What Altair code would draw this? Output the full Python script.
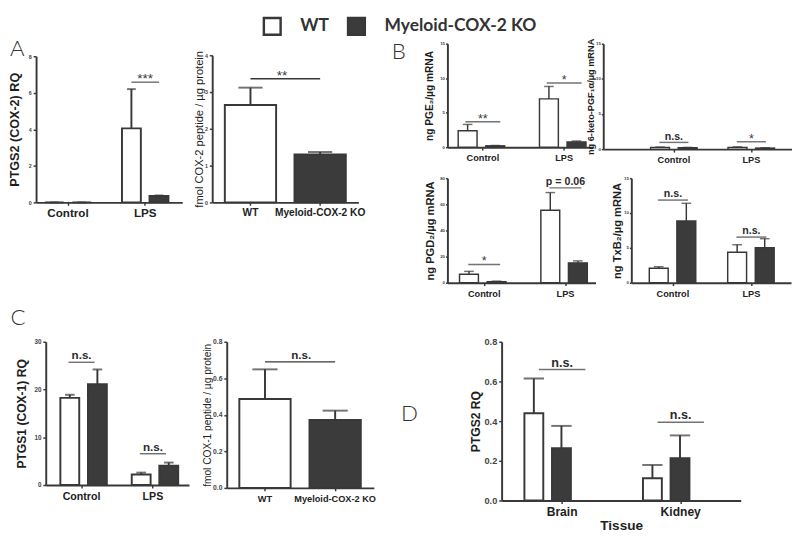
import altair as alt
import pandas as pd

INK = "#383838"
DARK = "#3b3b3b"
FONT = "Liberation Sans"
LFONT = "Lato"

groups = ["WT", "Myeloid-COX-2 KO"]
treatments = ["Control", "LPS"]
tissues = ["Brain", "Kidney"]

# order: Control-WT, Control-KO, LPS-WT, LPS-KO ; "upper" = top of error bar
a1_mean = [0.0, 0.0, 4.05, 0.35]
a1_upper = [0.0, 0.0, 6.2, 0.38]
a1_sig_cat = ["LPS"]
a1_sig_y = [6.58]
a1_sig_txt = ["***"]

a2_mean = [2.65, 1.30]
a2_upper = [3.12, 1.37]
a2_sig_y = 3.36
a2_sig_txt = "**"

b1_mean = [2.4, 0.2, 7.0, 0.75]
b1_upper = [3.3, 0.25, 8.8, 0.9]
b1_sig_cat = ["Control", "LPS"]
b1_sig_y = [3.7, 9.3]
b1_sig_txt = ["**", "*"]

b2_mean = [0.25, 0.2, 0.25, 0.15]
b2_upper = [0.3, 0.25, 0.33, 0.2]
b2_sig_cat = ["Control", "LPS"]
b2_sig_y = [0.96, 1.05]
b2_sig_txt = ["n.s.", "*"]

b3_mean = [6.5, 0.8, 55.5, 15.2]
b3_upper = [8.7, 1.2, 69.0, 16.7]
b3_sig_cat = ["Control", "LPS"]
b3_sig_y = [14.0, 72.6]
b3_sig_txt = ["*", "p = 0.06"]

b4_mean = [2.08, 8.86, 4.38, 5.03]
b4_upper = [2.3, 11.4, 5.45, 6.32]
b4_sig_cat = ["Control", "LPS"]
b4_sig_y = [11.86, 6.55]
b4_sig_txt = ["n.s.", "n.s."]

c1_mean = [18.25, 21.1, 2.2, 4.05]
c1_upper = [18.9, 24.2, 2.6, 4.7]
c1_sig_cat = ["Control", "LPS"]
c1_sig_y = [25.7, 6.55]
c1_sig_txt = ["n.s.", "n.s."]

c2_mean = [0.487, 0.372]
c2_upper = [0.649, 0.423]
c2_sig_y = 0.69
c2_sig_txt = "n.s."

d_mean = [0.44, 0.263, 0.112, 0.213]
d_upper = [0.615, 0.376, 0.179, 0.328]
d_sig_cat = ["Brain", "Kidney"]
d_sig_y = [0.66, 0.394]
d_sig_txt = ["n.s.", "n.s."]

fill_scale = alt.Scale(domain=groups, range=["#ffffff", DARK])
legend = alt.Legend(orient="none", legendX=224, legendY=-28, direction="horizontal",
                    title=None, symbolType="square", symbolSize=300,
                    symbolStrokeColor=INK, symbolStrokeWidth=2.5,
                    labelFont=LFONT, labelFontSize=18, labelFontWeight="bold",
                    labelColor="#333", labelOffset=19, columnPadding=14,
                    labelLimit=300, padding=0)


def band_params(W, c1, c2, pi):
    step = c2 - c1
    po = max(0.0, (W / step - 2 + pi) / 2)
    bw = step * (1 - pi)
    free = W - step * (2 - pi)
    al = min(1.0, max(0.0, (c1 - bw / 2) / free)) if free > 0 else 0.5
    return po, al


def sub_params(bw, d, w):
    pi2 = 1 - w / d
    po2 = max(0.0, (bw / d - 2 + pi2) / 2)
    return pi2, po2


def letter(text, anchor, dx, dy):
    return alt.TitleParams(text=text, anchor=anchor, frame="group", orient="top",
                           dx=dx, dy=dy, offset=0, font=LFONT, fontSize=23,
                           fontWeight=300, color="#333")


def y_axis(p):
    kw = dict(values=p["yticks"], format=p["yfmt"], title=p["ytitle"],
              titleFontSize=p["yts"], titleFontWeight=p["ytw"],
              titlePadding=p["ytpad"], labelFontSize=p["yls"],
              labelColor="#444", tickSize=p.get("ytick", 3),
              labelPadding=p.get("ylpad", 2))
    if "yoffset" in p:
        kw["offset"] = p["yoffset"]
    return alt.Axis(**kw)


def x_axis(p):
    kw = dict(labelAngle=0, labelFontSize=p["xls"], labelColor="#222",
              labelPadding=p.get("xlpad", 3), tickSize=3, title=None)
    kw.update(p.get("xextra", {}))
    return alt.Axis(**kw)


def x_scale(p, domain, pi):
    rw = p["xrange"][1] - p["xrange"][0] if "xrange" in p else p["W"]
    po, al = band_params(rw, p["c1"], p["c2"], pi)
    kw = dict(domain=domain, paddingInner=pi, paddingOuter=po, align=al)
    if "xrange" in p:
        kw["range"] = p["xrange"]
    return alt.Scale(**kw)


def y_scale(p):
    kw = dict(domain=[0, p["ymax"]], nice=False)
    if "yrange" in p:
        kw["range"] = p["yrange"]
    return alt.Scale(**kw)


def sig_layers(sdf, X, Y, p, dx=0):
    layers = []
    stars = sdf[sdf["label"].str.strip("*") == ""]
    words = sdf[sdf["label"].str.strip("*") != ""]
    if len(stars):
        layers.append(alt.Chart(stars).mark_text(baseline="alphabetic", dy=1, dx=dx,
                      font=FONT, fontSize=p["star"], color=INK)
                      .encode(x=X, y=Y, text="label:N"))
    if len(words):
        layers.append(alt.Chart(words).mark_text(baseline="alphabetic", dy=-3, dx=dx,
                      font=FONT, fontSize=p["word"], fontWeight="bold", color="#2b2b2b")
                      .encode(x=X, y=Y, text="label:N"))
    return layers


def grouped_panel(cats, mean, upper, sig_cat, sig_y, sig_txt, p, title=None):
    rows = []
    i = 0
    for c in cats:
        for g in groups:
            rows.append({"cat": c, "group": g, "mean": mean[i], "upper": upper[i]})
            i += 1
    df = pd.DataFrame(rows)
    pi = 0.3
    bw = (p["c2"] - p["c1"]) * (1 - pi)
    pi2, po2 = sub_params(bw, p["d"], p["bar"])
    xs = x_scale(p, cats, pi)
    ys = y_scale(p)
    xa = x_axis(p)
    ya = y_axis(p)
    X = alt.X("cat:N", scale=xs, axis=xa)
    XO = alt.XOffset("group:N", scale=alt.Scale(domain=groups, paddingInner=pi2, paddingOuter=po2))
    base = alt.Chart(df)
    bars = base.mark_bar(stroke=INK, strokeWidth=p["sw"]).encode(
        x=X, xOffset=XO, y=alt.Y("mean:Q", scale=ys, axis=ya),
        fill=alt.Fill("group:N", scale=fill_scale, legend=legend))
    err = base.mark_rule(color=INK, strokeWidth=p["sw"]).encode(
        x=X, xOffset=XO, y=alt.Y("mean:Q", scale=ys, axis=ya), y2="upper:Q")
    cap = base.mark_tick(color=INK, thickness=p["sw"], size=p["cap"], orient="horizontal").encode(
        x=X, xOffset=XO, y=alt.Y("upper:Q", scale=ys, axis=ya))
    sdf = pd.DataFrame({"cat": sig_cat, "y": sig_y, "label": sig_txt})
    Ys = alt.Y("y:Q", scale=ys, axis=ya)
    sline = alt.Chart(sdf).mark_tick(color=INK, thickness=1.5, size=p["span"], orient="horizontal").encode(
        x=X, y=Ys)
    layers = [bars, err, cap, sline] + sig_layers(sdf, X, Ys, p)
    props = dict(width=p["W"], height=p["H"])
    if title is not None:
        props["title"] = title
    return alt.layer(*layers).properties(**props)


def pair_panel(mean, upper, sig_y, sig_txt, p, title=None):
    df = pd.DataFrame({"group": groups, "mean": mean, "upper": upper})
    step = p["c2"] - p["c1"]
    pi = 1 - p["bar"] / step
    xs = x_scale(p, groups, pi)
    ys = y_scale(p)
    xa = x_axis(p)
    ya = y_axis(p)
    X = alt.X("group:N", scale=xs, axis=xa)
    base = alt.Chart(df)
    bars = base.mark_bar(stroke=INK, strokeWidth=p["sw"]).encode(
        x=X, y=alt.Y("mean:Q", scale=ys, axis=ya),
        fill=alt.Fill("group:N", scale=fill_scale, legend=legend))
    err = base.mark_rule(color=INK, strokeWidth=p["sw"]).encode(
        x=X, y=alt.Y("mean:Q", scale=ys, axis=ya), y2="upper:Q")
    cap = base.mark_tick(color=INK, thickness=p["sw"], size=p["cap"], orient="horizontal").encode(
        x=X, y=alt.Y("upper:Q", scale=ys, axis=ya))
    sdf = pd.DataFrame({"start": [groups[0]], "end": [groups[1]], "y": [sig_y], "label": [sig_txt]})
    Ys = alt.Y("y:Q", scale=ys, axis=ya)
    XS = alt.X("start:N", scale=xs, axis=xa, bandPosition=0.5)
    sline = alt.Chart(sdf).mark_rule(color=INK, strokeWidth=1.5).encode(
        x=XS, x2=alt.X2("end:N", bandPosition=0.5), y=Ys)
    layers = [bars, err, cap, sline] + sig_layers(sdf, XS, Ys, p, dx=p["sigdx"])
    props = dict(width=p["W"], height=p["H"])
    if title is not None:
        props["title"] = title
    return alt.layer(*layers).properties(**props)


pA1 = dict(W=141, H=164, xrange=[-10, 141], yrange=[164, 13], yoffset=10,
           c1=33, c2=112.75, d=28.5, bar=19.5, ymax=8, yticks=[0, 2, 4, 6, 8],
           yfmt="d", ytitle="PTGS2 (COX-2) RQ", yts=13, ytw="bold", ytpad=7, yls=5.5,
           xls=12, sw=2, cap=9, span=28.5, star=14, word=12,
           xextra=dict(title="C", titleX=-37, titleY=108, titleAlign="left", titleBaseline="top",
                       titleAngle=0, titleFont=LFONT, titleFontSize=23, titleFontWeight=300,
                       titleColor="#333"))
pA2 = dict(W=151, H=164, yrange=[164, 12], c1=39.5, c2=111.5, bar=53, ymax=4,
           yticks=[0, 1, 2, 3, 4], yfmt="d",
           ytitle="fmol COX-2 peptide / µg protein", yts=11.5, ytw="normal", ytpad=0, yls=5.5,
           xls=10.5, sw=2, cap=25, star=14, word=12, sigdx=32.5)
pB1 = dict(W=150, H=107, c1=38, c2=122, d=27.5, bar=20, ymax=15, yticks=[0, 5, 10, 15], yfmt="d",
           ytitle="ng PGE₂/µg mRNA", yts=10.5, ytw="bold", ytpad=5, yls=4.5, ytick=2, ylpad=1,
           xls=9.5, sw=1.5, cap=10, span=36, star=13, word=11)
pB2 = dict(W=195, H=109, c1=73, c2=153, d=30, bar=20, ymax=15, yticks=[0, 5, 10, 15], yfmt="d",
           ytitle="ng 6-keto-PGF₁α/µg mRNA", yts=9.5, ytw="bold", ytpad=0, yls=4.5, ytick=2, ylpad=1,
           xls=9.5, sw=1.5, cap=10, span=30, star=13, word=11)
pB3 = dict(W=153, H=108, c1=38, c2=122, d=27.5, bar=20, ymax=80, yticks=[0, 20, 40, 60, 80],
           yfmt="d", ytitle="ng PGD₂/µg mRNA", yts=11.5, ytw="bold", ytpad=4, yls=4.5, ytick=2,
           ylpad=1, xls=9.5, sw=1.5, cap=10, span=33, star=13, word=11)
pB4 = dict(W=165, H=108, c1=43, c2=124, d=30.5, bar=20.5, ymax=15, yticks=[0, 5, 10, 15], yfmt="d",
           ytitle="ng TxB₂/µg mRNA", yts=11.5, ytw="bold", ytpad=1, yls=4.5, ytick=2, ylpad=1,
           xls=9.5, sw=1.5, cap=10, span=31, star=13, word=11)
pC1 = dict(W=148, H=148, c1=37, c2=110.75, d=27, bar=20, ymax=30, yticks=[0, 10, 20, 30], yfmt="d",
           ytitle="PTGS1 (COX-1) RQ", yts=12.5, ytw="bold", ytpad=6, yls=6.5,
           xls=11, sw=2, cap=10, span=27, star=14, word=12)
pC2 = dict(W=152, H=151, c1=39.5, c2=112, bar=53, ymax=0.8, yticks=[0, 0.2, 0.4, 0.6, 0.8],
           yfmt=".1f", ytitle="fmol COX-1 peptide / µg protein", yts=10.5, ytw="normal", ytpad=0,
           yls=7, xls=9.5, sw=2, cap=26, star=14, word=12, sigdx=37.5)
pD = dict(W=247, H=164, c1=62.5, c2=185, d=46, bar=32, ymax=0.8, yticks=[0, 0.2, 0.4, 0.6, 0.8],
          yfmt=".1f", ytitle="PTGS2 RQ", yts=12.5, ytw="bold", ytpad=2, yls=9.5,
          xls=12.5, sw=2, cap=21, span=48, star=14, word=13,
          xextra=dict(title="Tissue", titleFontSize=14, titlePadding=0, titleColor="#222"))

A1 = grouped_panel(treatments, a1_mean, a1_upper, a1_sig_cat, a1_sig_y, a1_sig_txt, pA1,
                   title=letter("A", "start", -37, 18))
A2 = pair_panel(a2_mean, a2_upper, a2_sig_y, a2_sig_txt, pA2, title=letter("B", "end", 49, 21))
B1 = grouped_panel(treatments, b1_mean, b1_upper, b1_sig_cat, b1_sig_y, b1_sig_txt, pB1)
B2 = grouped_panel(treatments, b2_mean, b2_upper, b2_sig_cat, b2_sig_y, b2_sig_txt, pB2)
B3 = grouped_panel(treatments, b3_mean, b3_upper, b3_sig_cat, b3_sig_y, b3_sig_txt, pB3)
B4 = grouped_panel(treatments, b4_mean, b4_upper, b4_sig_cat, b4_sig_y, b4_sig_txt, pB4)
C1 = grouped_panel(treatments, c1_mean, c1_upper, c1_sig_cat, c1_sig_y, c1_sig_txt, pC1)
C2 = pair_panel(c2_mean, c2_upper, c2_sig_y, c2_sig_txt, pC2)
D = grouped_panel(tissues, d_mean, d_upper, d_sig_cat, d_sig_y, d_sig_txt, pD,
                  title=letter("D", "start", -104, 92))

Agrp = alt.hconcat(A1, A2, spacing=1)
Btop = alt.hconcat(B1, B2, spacing=-8)
Bbot = alt.hconcat(B3, B4, spacing=16)
Bgrp = alt.vconcat(Btop, Bbot, spacing=11)
row1 = alt.hconcat(Agrp, Bgrp, spacing=19)
Cgrp = alt.hconcat(C1, C2, spacing=14)
row2 = alt.hconcat(Cgrp, D, spacing=26)

chart = alt.vconcat(row1, row2, spacing=8).properties(padding=0)
chart = chart.configure_axis(
    labelFont=FONT, titleFont=FONT, domainColor=INK, tickColor=INK,
    titleColor="#1e1e1e", grid=False, domainWidth=2, tickWidth=1.5,
    labelFontWeight="bold", titleFontWeight="bold"
).configure_view(strokeWidth=0)

chart.save("out.html", embed_options={"renderer": "svg", "actions": False})
